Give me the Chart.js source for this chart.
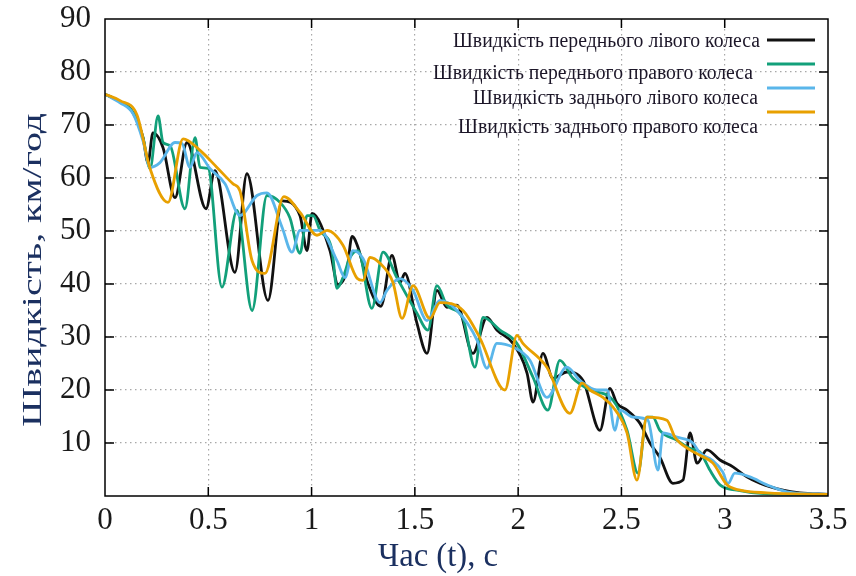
<!DOCTYPE html>
<html><head><meta charset="utf-8">
<script src="https://cdn.jsdelivr.net/npm/chart.js@4.4.0/dist/chart.umd.min.js"></script>
<style>html,body{margin:0;padding:0;background:#fff;}canvas{display:block;}</style>
</head><body>
<canvas id="c" width="856" height="576"></canvas>
<script>
const xTickLabels = ['0','0.5','1','1.5','2','2.5','3','3.5'];
const yTickLabels = ['','10','20','30','40','50','60','70','80','90'];
const seriesLabels = [
  'Швидкість переднього лівого колеса',
  'Швидкість переднього правого колеса',
  'Швидкість заднього лівого колеса',
  'Швидкість заднього правого колеса'
];
const xTitle = 'Час (t), с';
const yTitle = 'Швидкість, км/год';

const timeFL = [0,0.073,0.136,0.184,0.208,0.232,0.281,0.339,0.397,0.489,0.532,0.629,0.687,0.789,0.857,0.944,0.978,1.002,1.089,1.128,1.171,1.196,1.225,1.273,1.336,1.389,1.428,1.452,1.510,1.559,1.607,1.655,1.704,1.781,1.849,1.897,1.975,2.043,2.072,2.120,2.168,2.236,2.314,2.396,2.444,2.478,2.527,2.590,2.638,2.686,2.749,2.798,2.832,2.866,2.914,2.977,3.040,3.107,3.170,3.282,3.364,3.5];
const speedFL = [75.8,74.4,72.3,67.6,62.9,68.5,65.7,56.3,66.7,54.2,61.4,42.2,60.8,36.9,55.7,52.9,46.3,53.3,46.3,39.9,42.6,49.0,46.9,40.1,35.8,45.4,40.3,42.0,32.6,26.9,38.8,35.6,36.0,26.9,33.7,31.3,28.8,23.2,17.7,26.9,22.2,23.4,21.8,12.4,20.3,17.5,16.2,13.7,10.0,7.3,2.4,3.0,11.9,6.2,8.7,6.8,5.5,3.6,2.4,1.1,0.6,0.3];

const timeFR = [0,0.073,0.136,0.184,0.218,0.257,0.281,0.315,0.387,0.436,0.460,0.499,0.566,0.639,0.712,0.784,0.847,0.895,0.944,0.978,1.007,1.041,1.099,1.123,1.152,1.186,1.225,1.292,1.346,1.413,1.510,1.563,1.607,1.655,1.733,1.791,1.830,1.912,1.994,2.072,2.144,2.202,2.265,2.348,2.459,2.527,2.580,2.623,2.652,2.686,2.769,2.832,2.880,2.928,2.977,3.059,3.204,3.5];
const speedFR = [75.8,74.4,72.3,67.6,61.8,71.7,66.7,66.1,54.2,67.6,62.0,61.8,39.4,53.9,35.0,56.7,55.4,52.5,45.8,52.9,52.9,50.1,46.3,39.2,41.2,45.0,46.3,35.4,46.0,41.2,34.5,31.3,39.7,36.0,33.5,24.3,33.7,31.3,28.8,22.4,16.2,25.6,22.2,20.0,18.1,12.4,4.3,14.9,14.9,12.4,10.5,9.0,8.3,4.9,2.1,1.1,0.4,0.3];

const timeRL = [0,0.073,0.136,0.184,0.218,0.266,0.339,0.373,0.411,0.445,0.508,0.581,0.653,0.736,0.784,0.857,0.905,0.944,1.041,1.123,1.162,1.200,1.249,1.331,1.365,1.428,1.491,1.559,1.621,1.704,1.801,1.849,1.897,1.975,2.057,2.139,2.236,2.299,2.381,2.430,2.469,2.493,2.556,2.628,2.677,2.701,2.769,2.846,2.880,2.938,2.991,3.015,3.049,3.122,3.204,3.301,3.5];
const speedRL = [75.8,74.2,72.1,67.0,62.0,62.9,66.7,66.5,62.0,64.8,61.8,58.9,52.9,56.7,57.2,50.7,46.0,50.1,50.1,44.4,41.2,46.3,44.8,36.5,38.8,41.0,38.8,33.1,36.9,35.0,29.4,24.1,28.8,28.1,25.6,18.6,24.3,21.8,20.0,20.0,12.4,16.2,14.9,14.3,4.9,11.9,11.1,10.0,8.1,6.8,4.5,2.3,4.3,3.6,2.1,0.8,0.3];

const timeRR = [0,0.073,0.155,0.218,0.305,0.378,0.460,0.542,0.620,0.653,0.712,0.774,0.866,0.944,1.026,1.075,1.152,1.220,1.249,1.283,1.331,1.394,1.438,1.491,1.573,1.621,1.733,1.815,1.936,1.994,2.023,2.139,2.251,2.309,2.348,2.410,2.459,2.527,2.575,2.623,2.720,2.759,2.832,2.880,2.943,3.011,3.074,3.204,3.5];
const speedRR = [75.8,74.6,71.9,61.8,55.4,67.4,65.2,62.0,58.9,57.6,44.4,42.0,56.5,53.5,49.2,50.1,47.3,41.1,40.7,45.0,43.9,40.3,33.5,39.7,33.5,36.5,35.0,29.8,20.0,30.3,28.8,24.3,15.6,21.3,20.0,18.6,16.8,11.9,3.0,14.9,14.3,11.1,8.7,7.7,6.2,2.1,1.1,0.6,0.3];

const colors = ['#111111','#12a07a','#5ab6ea','#e8a000'];
const toXY = (t, v) => t.map((tt, i) => ({x: tt, y: v[i]}));
const seriesData = [toXY(timeFL, speedFL), toXY(timeFR, speedFR), toXY(timeRL, speedRL), toXY(timeRR, speedRR)];

function fitText(ctx, text, x, y, targetW, font, align, rot, color) {
  ctx.save();
  ctx.font = font;
  ctx.fillStyle = color;
  const w = ctx.measureText(text).width;
  ctx.translate(x, y);
  if (rot) ctx.rotate(rot);
  ctx.scale(targetW / w, 1);
  ctx.textAlign = align;
  ctx.textBaseline = 'alphabetic';
  ctx.fillText(text, 0, 0);
  ctx.restore();
}

const decor = {
  id: 'decor',
  afterDatasetsDraw(chart) {
    const {ctx, chartArea: a, scales: {x, y}} = chart;
    ctx.save();
    ctx.strokeStyle = '#000';
    ctx.lineWidth = 1.5;
    ctx.beginPath();
    const L = 9;
    y.ticks.forEach(t => {
      if (t.value <= y.min || t.value >= y.max) return;
      const py = y.getPixelForValue(t.value);
      ctx.moveTo(a.left, py); ctx.lineTo(a.left + L, py);
      ctx.moveTo(a.right, py); ctx.lineTo(a.right - L, py);
    });
    x.ticks.forEach(t => {
      if (t.value <= x.min || t.value >= x.max) return;
      const px = x.getPixelForValue(t.value);
      ctx.moveTo(px, a.bottom); ctx.lineTo(px, a.bottom - L);
      ctx.moveTo(px, a.top); ctx.lineTo(px, a.top + L);
    });
    ctx.stroke();
    ctx.strokeRect(a.left, a.top, a.right - a.left, a.bottom - a.top);
    ctx.restore();
  },
  afterDraw(chart) {
    const ctx = chart.ctx;
    const textRight = [760, 753, 758, 758];
    const textBase = [47, 79, 104, 133];
    const textW = [307, 320, 285, 300];
    const lineY = [40, 64, 88, 112];
    chart.data.datasets.forEach((ds, i) => {
      fitText(ctx, ds.label, textRight[i], textBase[i], textW[i], '20px "Liberation Serif"', 'right', 0, '#1c1628');
      ctx.save();
      ctx.strokeStyle = ds.borderColor;
      ctx.lineWidth = 2.8;
      ctx.beginPath();
      ctx.moveTo(767, lineY[i]); ctx.lineTo(815, lineY[i]);
      ctx.stroke();
      ctx.restore();
    });
    fitText(ctx, xTitle, 438, 566, 120, '33px "Liberation Serif"', 'center', 0, '#1b3060');
    fitText(ctx, yTitle, 41, 270, 314, '27px "Liberation Serif"', 'center', -Math.PI / 2, '#1b3060');
  }
};

new Chart(document.getElementById('c'), {
  type: 'line',
  data: {
    datasets: seriesData.map((d, i) => ({
      label: seriesLabels[i],
      data: d,
      borderColor: colors[i],
      backgroundColor: colors[i],
      borderWidth: 2.8,
      pointRadius: 0,
      fill: false,
      cubicInterpolationMode: 'monotone',
      order: 3 - i
    }))
  },
  options: {
    responsive: false,
    animation: false,
    events: [],
    layout: {padding: {top: 19, right: 28, left: 0, bottom: 0}, autoPadding: false},
    plugins: {legend: {display: false}, tooltip: {enabled: false}},
    scales: {
      x: {
        type: 'linear', min: 0, max: 3.5,
        ticks: {stepSize: 0.5, padding: 6, color: '#1a1a1a', font: {family: 'Liberation Serif', size: 31},
          callback: (v) => xTickLabels[Math.round(v / 0.5)] ?? ''},
        grid: {color: c => (c.index === 0 || (c.tick && c.tick.value === 3.5)) ? 'rgba(0,0,0,0)' : '#a8a8a8', lineWidth: 1.2, drawTicks: false},
        border: {display: false, dash: [1.5, 3.5]},
        afterFit: s => { s.height = 80; s.paddingLeft = 0; s.paddingRight = 0; }
      },
      y: {
        type: 'linear', min: 0, max: 90,
        ticks: {stepSize: 10, padding: 14, color: '#1a1a1a', font: {family: 'Liberation Serif', size: 31},
          callback: (v) => yTickLabels[Math.round(v / 10)] ?? ''},
        grid: {color: c => (c.index === 0 || (c.tick && c.tick.value === 90)) ? 'rgba(0,0,0,0)' : '#a8a8a8', lineWidth: 1.2, drawTicks: false},
        border: {display: false, dash: [1.5, 3.5]},
        afterFit: s => { s.width = 105; s.paddingTop = 0; s.paddingBottom = 0; }
      }
    }
  },
  plugins: [decor]
});
</script>
</body></html>
